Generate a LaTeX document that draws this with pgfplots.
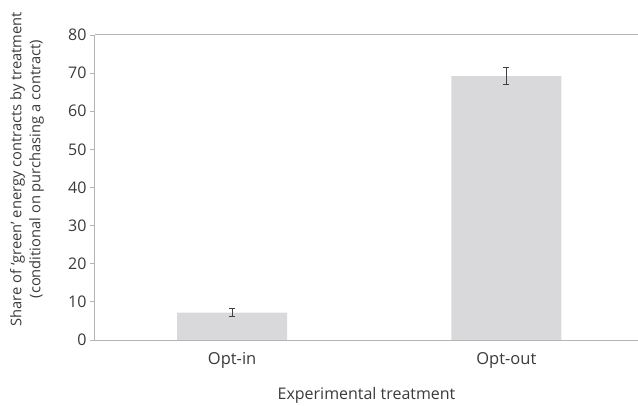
\documentclass[border=0pt]{standalone}
\usepackage{pgfplots}
\pgfplotsset{compat=1.18}
\usepackage{fontspec}
\setmainfont{Open Sans}
\definecolor{barfill}{HTML}{D9D9DB}
\definecolor{axisgray}{HTML}{B4B4B4}
\definecolor{txt}{HTML}{3A3A3A}
\definecolor{errc}{HTML}{404040}
\begin{document}
\begin{tikzpicture}
\begin{axis}[
  scale only axis, width=543bp, height=305bp,
  xmin=-0.5, xmax=1.48, ymin=0, ymax=80,
  ytick={0,10,...,80},
  xtick={0,1}, xticklabels={Opt-in,Opt-out},
  axis x line=box, axis y line=left,
  axis line style={draw=axisgray, line width=1bp, -},
  xtick style={draw=none},
  ytick style={draw=axisgray, line width=0.8bp},
  tick align=outside, major tick length=5bp,
  /pgf/number format/assume math mode=true,
  yticklabel style={font=\fontsize{16bp}{18bp}\selectfont, text=txt, xshift=0bp},
  xticklabel style={font=\fontsize{16.5bp}{18bp}\selectfont, text=txt, yshift=-4bp},
  xlabel={Experimental treatment},
  xlabel style={font=\fontsize{16bp}{18bp}\selectfont, text=txt, at={(axis description cs:0.5,0)}, anchor=center, yshift=-55bp},
  ylabel={Share of ‘green’ energy contracts by treatment\\(conditional on purchasing a contract)},
  ylabel style={font=\fontsize{14.7bp}{19bp}\selectfont, text=txt, align=center, at={(rel axis cs:-0.125,0.56)}, anchor=center},
  ybar, bar width=110bp,
]
\addplot[fill=barfill, draw=none,
  error bars/.cd, y dir=both, y explicit,
  error bar style={draw=errc, line width=1bp},
  error mark=-,
  error mark options={rotate=90, draw=errc, line width=1bp, mark size=3bp}]
  coordinates {(0,7.2) +- (0,1.1) (1,69.2) +- (0,2.2)};
\end{axis}
\pgfresetboundingbox
\useasboundingbox (-95bp,-66bp) rectangle (543bp,340bp);
\end{tikzpicture}
\end{document}
